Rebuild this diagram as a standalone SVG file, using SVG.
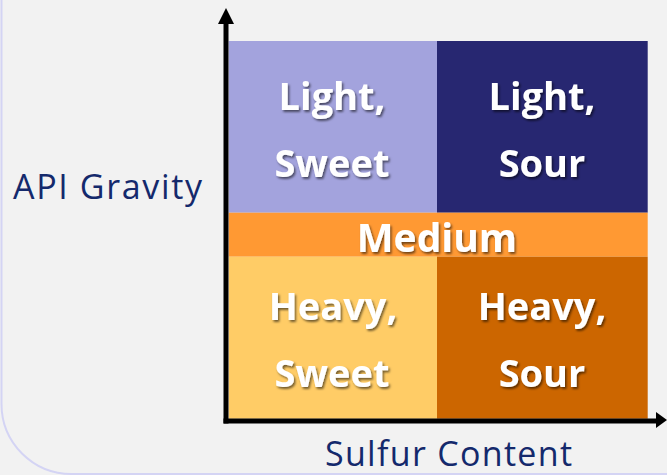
<svg xmlns="http://www.w3.org/2000/svg" width="667" height="475" viewBox="0 0 667 475">
<style>
.cell-text{font-family:"Open Sans","Noto Sans",sans-serif;font-weight:bold;font-size:38px;fill:#ffffff;text-anchor:middle;filter:url(#shadow)}
.axis-label{font-family:"Open Sans","Noto Sans",sans-serif;font-size:34px;fill:#14296c}
.axis{stroke:#000000;stroke-width:5;fill:none}
</style>
<defs>
<filter id="shadow" x="-10%" y="-10%" width="130%" height="140%">
<feDropShadow dx="1.5" dy="2" stdDeviation="1.2" flood-color="#000000" flood-opacity="0.55"/>
</filter>
</defs>
<rect x="0" y="0" width="667" height="475" fill="#f2f2f2"/>
<rect x="1.5" y="-100" width="800" height="574" rx="70" ry="70" fill="#f2f2f2" stroke="#d4d4f4" stroke-width="2"/>

<g id="light-sweet">
<rect x="228.7" y="41" width="208.3" height="171.7" fill="#a3a3dd"/>
<text class="cell-text" x="332" y="110">Light,</text>
<text class="cell-text" x="332" y="177">Sweet</text>
</g>
<g id="light-sour">
<rect x="437" y="41" width="210.7" height="171.7" fill="#272771"/>
<text class="cell-text" x="542" y="110">Light,</text>
<text class="cell-text" x="542" y="177">Sour</text>
</g>
<g id="medium">
<rect x="228.7" y="212.7" width="419" height="44" fill="#ff9933"/>
<text class="cell-text" x="437" y="252" style="font-size:39px">Medium</text>
</g>
<g id="heavy-sweet">
<rect x="228.7" y="256.7" width="208.3" height="162" fill="#ffcc66"/>
<text class="cell-text" x="333" y="320">Heavy,</text>
<text class="cell-text" x="332" y="387">Sweet</text>
</g>
<g id="heavy-sour">
<rect x="437" y="256.7" width="210.7" height="162" fill="#cc6600"/>
<text class="cell-text" x="542" y="320">Heavy,</text>
<text class="cell-text" x="542" y="387">Sour</text>
</g>

<g id="connectors">
<line class="axis" x1="226" y1="423.5" x2="226" y2="22"/>
<polygon points="226,8 218,24 234,24" fill="#000000"/>
<line class="axis" x1="223.5" y1="421" x2="658" y2="421"/>
<polygon points="667,420 656,412 656,428" fill="#000000"/>
</g>

<g id="y-label">
<text class="axis-label" x="13" y="198.5" textLength="189" lengthAdjust="spacing">API Gravity</text>
</g>
<g id="x-label">
<text class="axis-label" x="325" y="466" textLength="247" lengthAdjust="spacing">Sulfur Content</text>
</g>
</svg>
